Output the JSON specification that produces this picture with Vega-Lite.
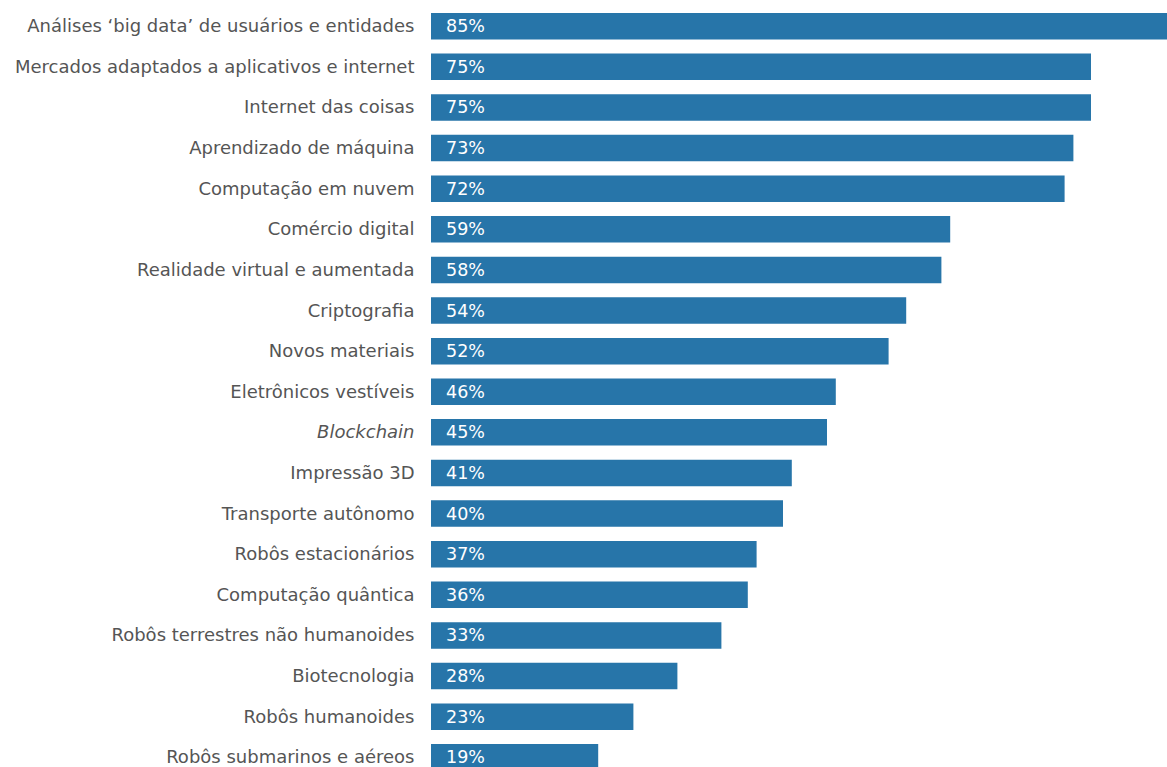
{
  "$schema": "https://vega.github.io/schema/vega-lite/v6.json",
  "width": 736,
  "height": 767,
  "autosize": "none",
  "padding": {"left": 431, "top": 0, "right": 0, "bottom": 0},
  "background": "white",
  "config": {"view": {"stroke": null}, "font": "DejaVu Sans"},
  "data": {"values": [
    {"tech": "Análises ‘big data’ de usuários e entidades", "share": 0.85},
    {"tech": "Mercados adaptados a aplicativos e internet", "share": 0.75},
    {"tech": "Internet das coisas", "share": 0.75},
    {"tech": "Aprendizado de máquina", "share": 0.73},
    {"tech": "Computação em nuvem", "share": 0.72},
    {"tech": "Comércio digital", "share": 0.59},
    {"tech": "Realidade virtual e aumentada", "share": 0.58},
    {"tech": "Criptografia", "share": 0.54},
    {"tech": "Novos materiais", "share": 0.52},
    {"tech": "Eletrônicos vestíveis", "share": 0.46},
    {"tech": "Blockchain", "share": 0.45},
    {"tech": "Impressão 3D", "share": 0.41},
    {"tech": "Transporte autônomo", "share": 0.40},
    {"tech": "Robôs estacionários", "share": 0.37},
    {"tech": "Computação quântica", "share": 0.36},
    {"tech": "Robôs terrestres não humanoides", "share": 0.33},
    {"tech": "Biotecnologia", "share": 0.28},
    {"tech": "Robôs humanoides", "share": 0.23},
    {"tech": "Robôs submarinos e aéreos", "share": 0.19}
  ]},
  "encoding": {
    "y": {
      "field": "tech", "type": "nominal", "sort": null,
      "scale": {"range": [0, 783.5], "paddingInner": 0.347, "paddingOuter": 0.32},
      "axis": {
        "title": null, "domain": false, "ticks": false,
        "labelPadding": 17, "labelFontSize": 18, "labelColor": "#555555",
        "labelFont": "DejaVu Sans", "labelLimit": 500, "labelOffset": 1,
        "labelFontStyle": {"condition": {"test": "datum.value == 'Blockchain'", "value": "italic"}, "value": "normal"}
      }
    }
  },
  "layer": [
    {
      "mark": {"type": "bar", "color": "#2775a9", "clip": true},
      "encoding": {
        "x": {"field": "share", "type": "quantitative", "scale": {"domain": [0, 1], "range": [0, 880], "nice": false}, "axis": null}
      }
    },
    {
      "mark": {"type": "text", "align": "left", "baseline": "middle", "dx": 15, "dy": 1, "color": "white", "fontSize": 17.5, "font": "DejaVu Sans", "clip": true},
      "encoding": {
        "x": {"datum": 0, "type": "quantitative", "scale": {"domain": [0, 1], "range": [0, 880], "nice": false}},
        "text": {"field": "share", "type": "quantitative", "format": ".0%"}
      }
    }
  ]
}
